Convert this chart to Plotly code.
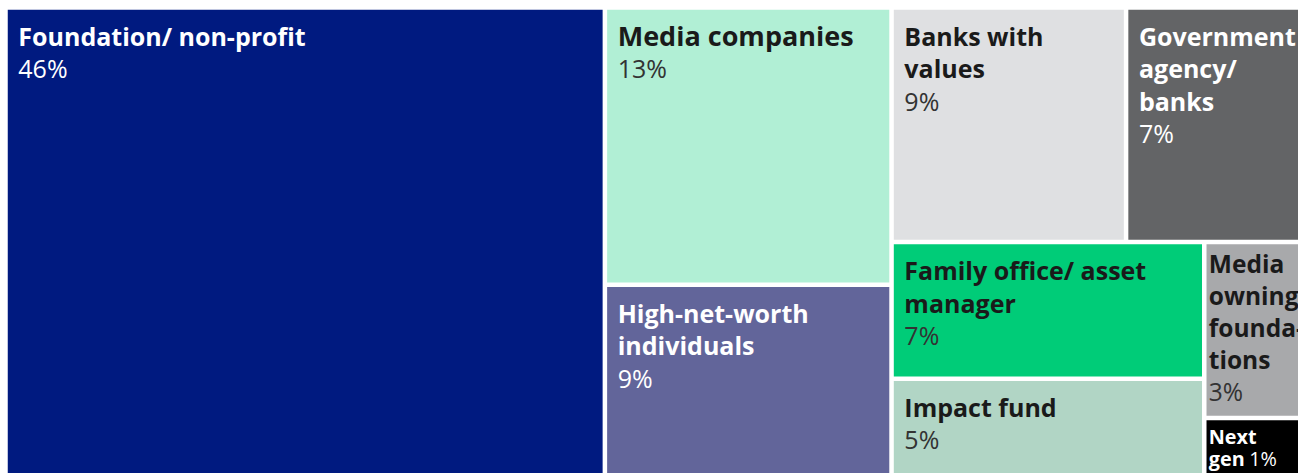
import plotly.graph_objects as go

# Funding sources and their share of the total (%)
sources = [
    "Foundation/ non-profit",
    "Media companies",
    "High-net-worth individuals",
    "Banks with values",
    "Government agency/ banks",
    "Family office/ asset manager",
    "Impact fund",
    "Media owning foundations",
    "Next gen",
]
shares = [46, 13, 9, 9, 7, 7, 5, 3, 1]

# Name lines as they are broken inside the tiles
wrapped = [
    ["Foundation/ non-profit"],
    ["Media companies"],
    ["High-net-worth", "individuals"],
    ["Banks with", "values"],
    ["Government", "agency/", "banks"],
    ["Family office/ asset", "manager"],
    ["Impact fund"],
    ["Media", "owning", "founda-", "tions"],
    ["Next", "gen"],
]
# The smallest tile keeps its share on the last name line
same_line = [False] * 8 + [True]
# Narrow tiles get no extra inset
compact = [False] * 7 + [True, True]
label_sizes = [25, 27, 25, 25, 25, 25, 25, 25, 25]
# base size per tile (sets the line spacing)
base_sizes = [25, 25, 25, 25, 25, 25, 25, 25, 22]

tile_colors = ["#001a80", "#b1efd5", "#62659a", "#dfe0e2", "#636466",
               "#00cc78", "#b1d5c5", "#a8a9ab", "#000000"]
dark_tiles = [True, False, True, False, True, False, False, False, True]

# inset from the tile's left and top edges
INDENT = "\u2004"
TOP_GAP = "<span style='font-size:1px'>\u00a0</span><br>"

texts = []
for lines, pct, inline, dark, size, tight in zip(
    wrapped, shares, same_line, dark_tiles, label_sizes, compact
):
    indent = "" if tight else INDENT
    pct_color = "#ffffff" if dark else "#333333"
    pct_txt = (
        f"<span style='font-size:25px;font-weight:normal;color:{pct_color}'>{pct}%</span>"
    )
    name_lines = [
        f"{indent}<span style='font-size:{size}px'><b>{ln}</b></span>" for ln in lines
    ]
    if inline:
        name_lines[-1] += " " + pct_txt
    else:
        name_lines.append(indent + pct_txt)
    texts.append(("" if tight else TOP_GAP) + "<br>".join(name_lines))

label_colors = ["#ffffff" if d else "#1a1a1a" for d in dark_tiles]

fig = go.Figure(
    go.Treemap(
        labels=sources,
        parents=[""] * len(sources),
        values=shares,
        text=texts,
        texttemplate="%{text}",
        textposition="top left",
        textfont=dict(family="Open Sans", size=base_sizes, color=label_colors),
        marker=dict(
            colors=tile_colors,
            line=dict(color="#ffffff", width=1.5),
            pad=dict(t=0, l=0, r=0, b=0),
        ),
        tiling=dict(packing="squarify", squarifyratio=1.618),
        pathbar=dict(visible=False),
        sort=True,
        hoverinfo="label+value",
    )
)

fig.update_layout(
    width=1307,
    height=475,
    autosize=False,
    margin=dict(l=7, r=0, t=9, b=0),
    paper_bgcolor="#ffffff",
    font=dict(family="Open Sans"),
)

fig.write_html("out.html")
